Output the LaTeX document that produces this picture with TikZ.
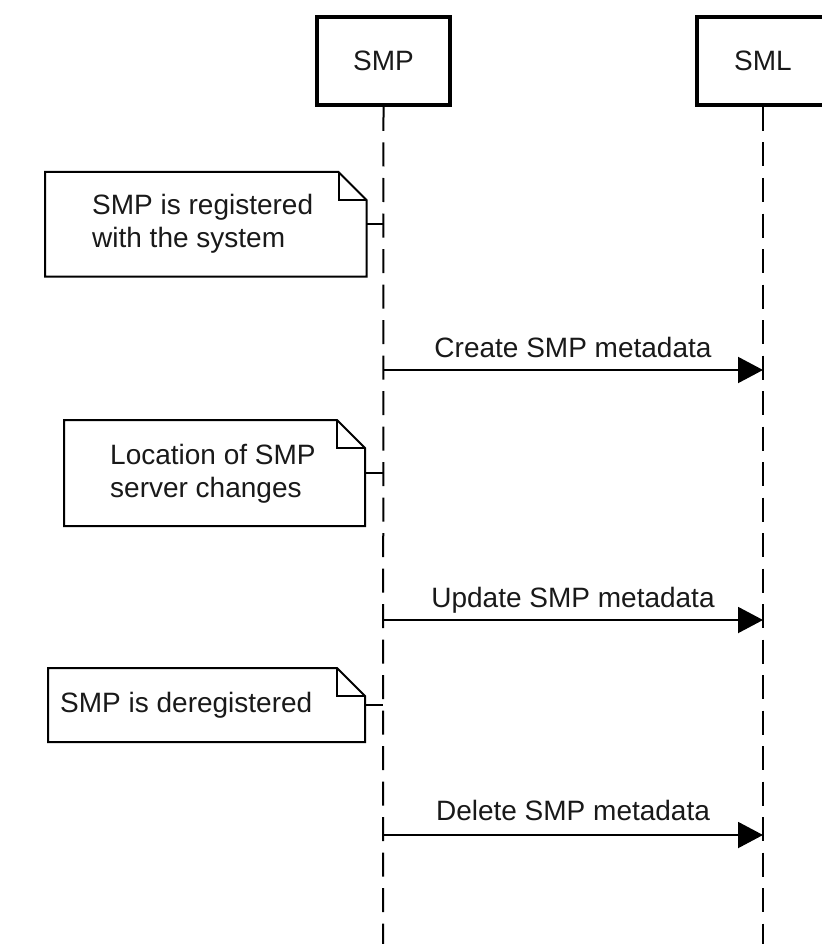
\documentclass[tikz,border=0pt]{standalone}
\usepackage{fontspec}
\setmainfont{Liberation Sans}
\usetikzlibrary{arrows.meta}

% outline of a note with a folded top-right corner, drawn round a named node
\newcommand\drawnote[1]{%
  \draw[noteline] (#1.north west) -- ([xshift=-28pt]#1.north east)
    -- ([yshift=-28pt]#1.north east) -- (#1.south east)
    -- (#1.south west) -- cycle;
  \draw[noteline] ([xshift=-28pt]#1.north east) |- ([yshift=-28pt]#1.north east);
}

\begin{document}
\begin{tikzpicture}[x=1pt,y=-1pt,
  txt/.style={font=\fontsize{28}{33}\selectfont, text=black!90},
  actor/.style={draw, line width=4pt, minimum width=133pt, minimum height=88pt,
    inner sep=0pt, txt},
  lifeline/.style={line width=2pt, dash pattern=on 24pt off 11.5pt},
  notebox/.style={inner sep=0pt, outer sep=0pt},
  noteline/.style={line width=2pt, line join=miter},
  notetext/.style={txt, inner sep=0pt, align=left, anchor=north west},
  link/.style={line width=2pt},
  msg/.style={line width=2pt, -{Triangle[length=25pt,width=26pt]}},
  msglabel/.style={txt, inner sep=0pt, anchor=base},
]
\useasboundingbox (0,0) rectangle (821,944);

% participants
\node[actor] (smp) at (383.5,61) {SMP};
\node[actor] (sml) at (763,61) {SML};

% lifeline ends
\coordinate (smpend) at (383,944);
\coordinate (smlend) at (763,944);
\draw[lifeline] (smp.south) -- (smpend);
\draw[lifeline] (sml.south) -- (smlend);

% notes on the SMP lifeline
\node[notebox, minimum width=321.5pt, minimum height=104.5pt] (n1) at (205.75,224.25) {};
\node[notebox, minimum width=301pt, minimum height=106pt] (n2) at (214.5,473) {};
\node[notebox, minimum width=317pt, minimum height=74pt] (n3) at (206.5,705) {};
\drawnote{n1}
\drawnote{n2}
\drawnote{n3}

\node[notetext] (t1) at (92,194.5) {SMP is registered\\with the system};
\node[notetext] (t2) at (110,444.5) {Location of SMP\\server changes};
\node[notetext] (t3) at (60,692.5) {SMP is deregistered};

\coordinate (c1) at (383,224.25);
\coordinate (c2) at (383,473);
\coordinate (c3) at (383,705);
\draw[link] (n1.east) -- (c1);
\draw[link] (n2.east) -- (c2);
\draw[link] (n3.east) -- (c3);

% messages SMP -> SML
\coordinate (m1s) at (383,370);  \coordinate (m1e) at (763,370);
\coordinate (m2s) at (383,620);  \coordinate (m2e) at (763,620);
\coordinate (m3s) at (383,835);  \coordinate (m3e) at (763,835);
\draw[msg] (m1s) -- (m1e) node[msglabel, midway, yshift=13pt] (l1) {Create SMP metadata};
\draw[msg] (m2s) -- (m2e) node[msglabel, midway, yshift=13pt] (l2) {Update SMP metadata};
\draw[msg] (m3s) -- (m3e) node[msglabel, midway, yshift=15pt] (l3) {Delete SMP metadata};
\end{tikzpicture}
\end{document}
